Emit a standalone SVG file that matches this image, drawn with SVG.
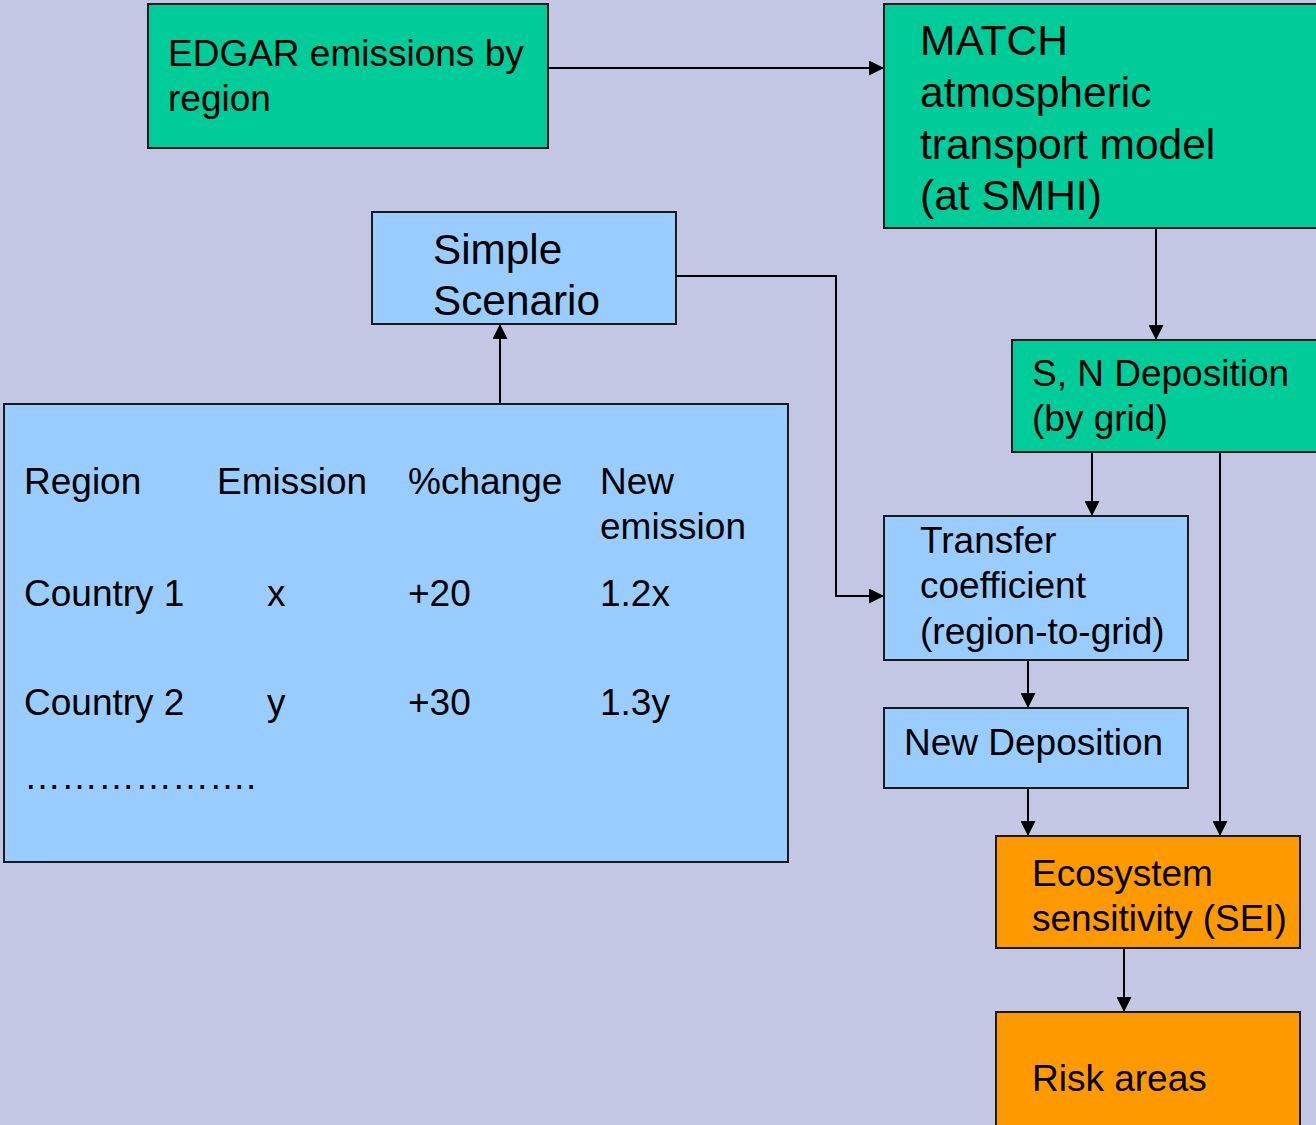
<svg xmlns="http://www.w3.org/2000/svg" width="1316" height="1125" viewBox="0 0 1316 1125">
  <defs>
    <marker id="arr" viewBox="0 0 10 10" refX="10" refY="5" markerWidth="7.5" markerHeight="7.5" markerUnits="strokeWidth" orient="auto">
      <path d="M0,0 L10,5 L0,10 Z" fill="#000"/>
    </marker>
    <style>
      .box { stroke: #1a1a1a; stroke-width: 2; }
      .green { fill: #00CC99; }
      .blue { fill: #99CCFF; }
      .orange { fill: #FF9900; }
      text { font-family: "Liberation Sans", Arial, sans-serif; fill: #000; }
      .t37 { font-size: 37px; }
      .t42 { font-size: 42.3px; }
      .t43 { font-size: 42.5px; }
      .link { fill: none; stroke: #000; stroke-width: 2; marker-end: url(#arr); }
    </style>
  </defs>

  <rect width="1316" height="1125" fill="#C3C7E3"/>

  <g id="connectors">
    <path class="link" d="M548,68 H884"/>
    <path class="link" d="M1156,228 V340"/>
    <path class="link" d="M500,404 V324"/>
    <path class="link" d="M676,276 H836 V596 H884"/>
    <path class="link" d="M1092,452 V516"/>
    <path class="link" d="M1220,452 V836"/>
    <path class="link" d="M1028,660 V708"/>
    <path class="link" d="M1028,788 V836"/>
    <path class="link" d="M1124,948 V1012"/>
  </g>

  <g id="edgar">
    <rect class="box green" x="148" y="4" width="400" height="144"/>
    <text class="t37" x="168" y="66">EDGAR emissions by</text>
    <text class="t37" x="168" y="111">region</text>
  </g>

  <g id="match">
    <rect class="box green" x="884" y="4" width="434" height="224"/>
    <text class="t43" x="920" y="55">MATCH</text>
    <text class="t43" x="920" y="107">atmospheric</text>
    <text class="t43" x="920" y="159">transport model</text>
    <text class="t43" x="920" y="210">(at SMHI)</text>
  </g>

  <g id="simple-scenario">
    <rect class="box blue" x="372" y="212" width="304" height="112"/>
    <text class="t42" x="433" y="264">Simple</text>
    <text class="t42" x="433" y="315">Scenario</text>
  </g>

  <g id="emission-table">
    <rect class="box blue" x="4" y="404" width="784" height="458"/>
    <text class="t37" x="24" y="494">Region</text>
    <text class="t37" x="217" y="494">Emission</text>
    <text class="t37" x="408" y="494">%change</text>
    <text class="t37" x="600" y="494">New</text>
    <text class="t37" x="600" y="539">emission</text>
    <text class="t37" x="24" y="606">Country 1</text>
    <text class="t37" x="267" y="606">x</text>
    <text class="t37" x="408" y="606">+20</text>
    <text class="t37" x="600" y="606">1.2x</text>
    <text class="t37" x="24" y="715">Country 2</text>
    <text class="t37" x="267" y="715">y</text>
    <text class="t37" x="408" y="715">+30</text>
    <text class="t37" x="600" y="715">1.3y</text>
    <text class="t37" x="24" y="789">……………….</text>
  </g>

  <g id="sn-deposition">
    <rect class="box green" x="1012" y="340" width="306" height="112"/>
    <text class="t37" x="1032" y="386">S, N Deposition</text>
    <text class="t37" x="1032" y="431">(by grid)</text>
  </g>

  <g id="transfer-coefficient">
    <rect class="box blue" x="884" y="516" width="304" height="144"/>
    <text class="t37" x="920" y="553">Transfer</text>
    <text class="t37" x="920" y="598">coefficient</text>
    <text class="t37" x="920" y="644">(region-to-grid)</text>
  </g>

  <g id="new-deposition">
    <rect class="box blue" x="884" y="708" width="304" height="80"/>
    <text class="t37" x="904" y="755">New Deposition</text>
  </g>

  <g id="ecosystem-sensitivity">
    <rect class="box orange" x="996" y="836" width="304" height="112"/>
    <text class="t37" x="1032" y="886">Ecosystem</text>
    <text class="t37" x="1032" y="931">sensitivity (SEI)</text>
  </g>

  <g id="risk-areas">
    <rect class="box orange" x="996" y="1012" width="304" height="120"/>
    <text class="t37" x="1032" y="1091">Risk areas</text>
  </g>
</svg>
